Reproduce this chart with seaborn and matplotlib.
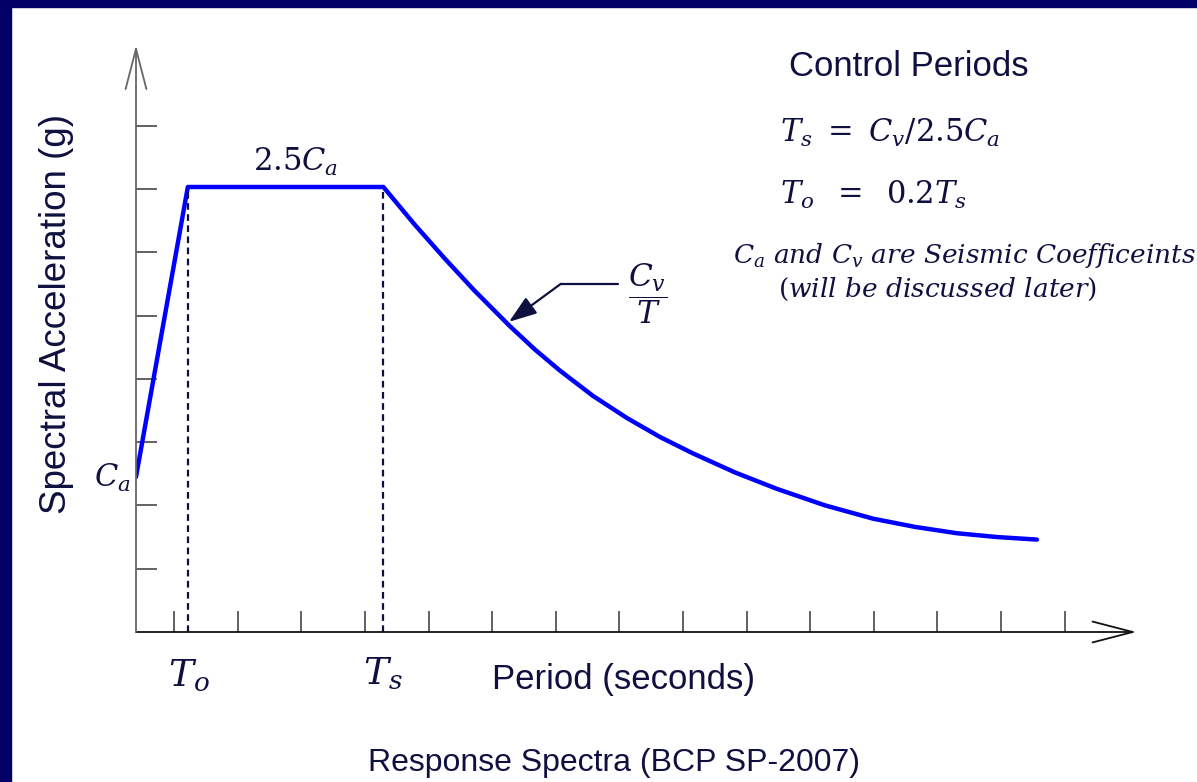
import numpy as np
import pandas as pd
import matplotlib
matplotlib.use("Agg")
import matplotlib.pyplot as plt
from matplotlib.patches import Rectangle
import seaborn as sns

# ---------------- data ----------------
period = [0.0, 0.163, 0.778, 0.874, 0.969, 1.063, 1.176, 1.255, 1.333, 1.437,
          1.544, 1.648, 1.752, 1.884, 2.016, 2.167, 2.318, 2.450, 2.582, 2.708, 2.833]
accel = [0.245, 0.703, 0.703, 0.645, 0.591, 0.540, 0.483, 0.446, 0.413, 0.373,
         0.338, 0.308, 0.282, 0.252, 0.226, 0.200, 0.179, 0.166, 0.156, 0.150, 0.146]
T_o = 0.163
T_s = 0.778
x_ticks = [0.12 + 0.2 * k for k in range(15)]
y_ticks = [0.1, 0.2, 0.3, 0.4, 0.5, 0.6, 0.7, 0.8]

df = pd.DataFrame({"Period": period, "Sa": accel})

# ---------------- figure ----------------
sns.set_style("white")
plt.rcParams["font.family"] = ["Liberation Sans", "DejaVu Sans"]
plt.rcParams["mathtext.fontset"] = "dejavuserif"

W, H = 1197, 782
fig = plt.figure(figsize=(W / 100, H / 100), dpi=100)
fig.patch.set_facecolor("white")

PX_X = 318.0   # px per second
PX_Y = 633.0   # px per g
x0px, y0px = 136, 632
xmax, ymax = 3.3, 0.95
ax = fig.add_axes([x0px / W, (H - y0px) / H, xmax * PX_X / W, ymax * PX_Y / H])
ax.set_xlim(0, xmax)
ax.set_ylim(0, ymax)
for s in ax.spines.values():
    s.set_visible(False)
ax.set_facecolor("none")

navy = "#101040"

# spectrum
sns.lineplot(data=df, x="Period", y="Sa", ax=ax, color="#0000ff", lw=3.2,
             sort=False, estimator=None)
ax.lines[-1].set_solid_joinstyle("round")
ax.set_xlabel("")
ax.set_ylabel("")

# dashed control-period lines
top = accel[1]
ax.plot([T_o, T_o], [0, top], ls=(0, (3, 2)), color=navy, lw=1.6)
ax.plot([T_s, T_s], [0, top], ls=(0, (3, 2)), color=navy, lw=1.6)

# ticks
ax.set_xticks(x_ticks)
ax.set_yticks(y_ticks)
ax.tick_params(axis="both", direction="in", length=15, width=1.3, color="#555555",
               labelbottom=False, labelleft=False, bottom=True, left=True)

# axis arrows
ax.annotate("", xy=(3.146, 0), xytext=(0, 0),
            arrowprops=dict(arrowstyle="->,head_length=2.9,head_width=0.75",
                            color="#111111", lw=1.3, shrinkA=0, shrinkB=0))
ax.annotate("", xy=(0, 0.927), xytext=(0, 0),
            arrowprops=dict(arrowstyle="->,head_length=2.9,head_width=0.75",
                            color="#666666", lw=1.3, shrinkA=0, shrinkB=0))

# Cv/T pointer
ax.plot([1.336, 1.516], [0.550, 0.550], color=navy, lw=1.6)
ax.annotate("", xy=(1.173, 0.490), xytext=(1.336, 0.550),
            arrowprops=dict(arrowstyle="-|>,head_length=1.7,head_width=0.6",
                            color=navy, lw=1.6, shrinkA=0, shrinkB=0))


def ftext(xp, yp, s, **kw):
    kw.setdefault("color", navy)
    return fig.text(xp / W, 1 - yp / H, s, **kw)


# labels
ftext(57, 314, "Spectral Acceleration (g)", rotation=90, fontsize=26.5,
      ha="center", va="center")
ftext(624, 680, "Period (seconds)", fontsize=25, ha="center", va="center")
ftext(614, 763, "Response Spectra (BCP SP-2007)", fontsize=23, ha="center", va="center")
ftext(789, 66, "Control Periods", fontsize=25, ha="left", va="center")

# math annotations
ftext(296, 162, r"$2.5C_a$", fontsize=22, ha="center", va="center")
ftext(112, 478, r"$C_a$", fontsize=22, ha="center", va="center")
ftext(189, 676, r"$T_o$", fontsize=27, ha="center", va="center")
ftext(383, 674, r"$T_s$", fontsize=27, ha="center", va="center")
ftext(648, 294, r"$\dfrac{C_v}{T}$", fontsize=22.5, ha="center", va="center")
ftext(780, 133, r"$T_s\ =\ C_v/2.5C_a$", fontsize=22, ha="left", va="center")
ftext(780, 195, r"$T_o\ \;=\ \;0.2T_s$", fontsize=22, ha="left", va="center")
ftext(733, 255, r"$C_a\ and\ C_v\ are\ Seismic\ Coefficeints$", fontsize=19,
      ha="left", va="center")
ftext(778, 289, r"$(will\ be\ discussed\ later)$", fontsize=19, ha="left", va="center")

# navy frame (top and left)
fig.patches.append(Rectangle((0, 1 - 7 / H), 1, 7 / H, transform=fig.transFigure,
                             color="#000066", zorder=10))
fig.patches.append(Rectangle((0, 0), 11 / W, 1, transform=fig.transFigure,
                             color="#000066", zorder=10))

fig.savefig("out.png", dpi=100, facecolor="white")
